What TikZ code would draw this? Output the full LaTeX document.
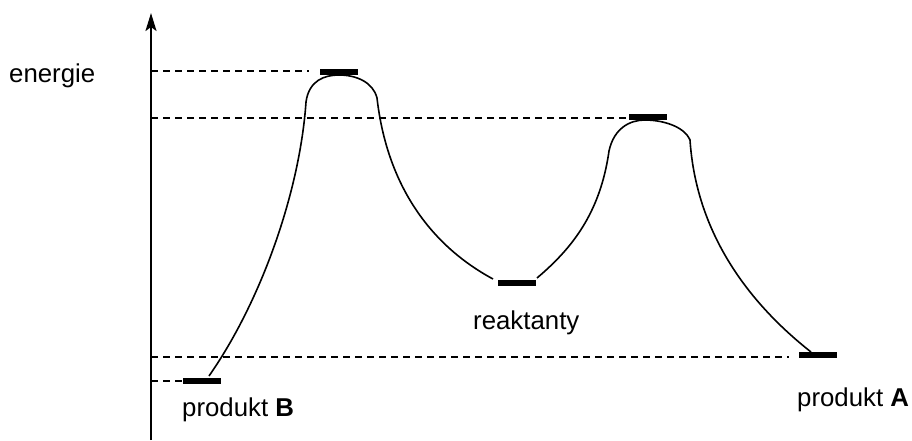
\documentclass[tikz,border=0pt]{standalone}
\usepackage{fontspec}
\setmainfont{Liberation Sans}
\usetikzlibrary{arrows.meta}
\begin{document}
\begin{tikzpicture}[x=1pt,y=-1pt,
  level/.style={fill=black,draw=none,rectangle,minimum width=38pt,minimum height=6pt,inner sep=0pt},
  guide/.style={line width=1.2pt,dash pattern=on 7pt off 5pt},
  curve/.style={line width=1.6pt},
  lbl/.style={inner sep=0pt,anchor=base west,font=\fontsize{25.8}{30}\selectfont}]
\useasboundingbox (0,0) rectangle (912,440);
% axis
\coordinate (axb) at (151,440);
\coordinate (axt) at (151,13);
\draw[line width=2.2pt,-{Stealth[length=18pt,width=11pt,inset=4pt]}] (axb) -- (axt);
% levels
\node[level] (B) at (202,381) {};
\node[level] (T1) at (339,72) {};
\node[level] (R) at (517,283) {};
\node[level] (T2) at (648,117) {};
\node[level] (A) at (818,355) {};
% guide ends
\coordinate (g1a) at (151,71);  \coordinate (g1b) at (309,71);
\coordinate (g2a) at (151,118); \coordinate (g2b) at (628,118);
\coordinate (g3a) at (151,357); \coordinate (g3b) at (789,357);
\coordinate (g4a) at (151,381);
\draw[guide] (g1a) -- (g1b);
\draw[guide] (g2a) -- (g2b);
\draw[guide] (g3a) -- (g3b);
\draw[guide] (g4a) -- (B.west);
% curve points
\coordinate (b0) at (209,376);
\coordinate (c1l) at (306,102);
\coordinate (c1t) at (339,75);
\coordinate (c1r) at (377,98);
\coordinate (r0) at (493,279);
\coordinate (r1) at (537,278);
\coordinate (c2l) at (609,151);
\coordinate (c2t) at (645,120);
\coordinate (c2r) at (690,140);
\coordinate (a0) at (811,352);
\draw[curve] (b0) .. controls (262,300) and (300,190) .. (c1l)
  .. controls (309,80) and (325,75) .. (c1t)
  .. controls (356,75) and (373,82) .. (c1r)
  .. controls (387,185) and (430,245) .. (r0);
\draw[curve] (r1) .. controls (570,250) and (600,215) .. (c2l)
  .. controls (614,128) and (630,120) .. (c2t)
  .. controls (662,120) and (684,126) .. (c2r)
  .. controls (696,230) and (745,300) .. (a0);
% labels
\node[lbl] (le) at (9,82) {energie};
\node[lbl] (lr) at (473,329) {reaktanty};
\node[lbl] (lb) at (182,416) {produkt \textbf{B}};
\node[lbl] (la) at (797,406) {produkt \textbf{A}};
\end{tikzpicture}
\end{document}
